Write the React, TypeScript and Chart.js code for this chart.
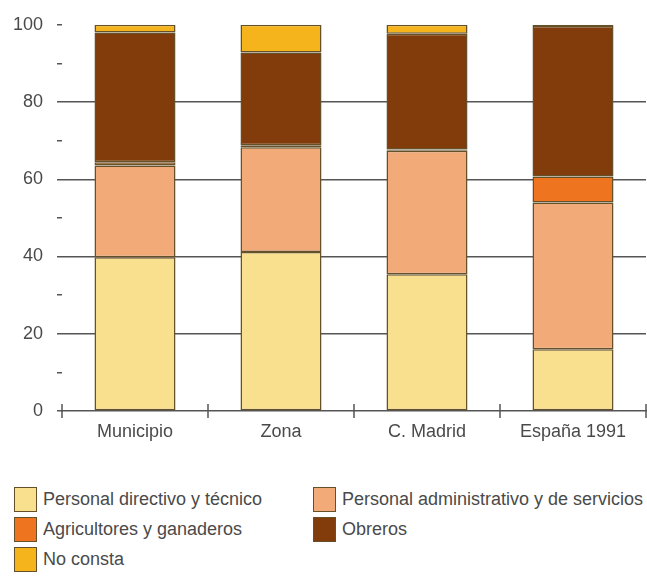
import React, { useEffect, useRef } from "react";
import { Chart, registerables } from "chart.js";

Chart.register(...registerables);

const categories = ["Municipio", "Zona", "C. Madrid", "España 1991"];
const directivo = [39.8, 41.2, 35.4, 16.0];
const administrativo = [23.8, 27.1, 32.0, 38.0];
const agricultores = [0.8, 0.5, 0.3, 6.7];
const obreros = [33.6, 24.0, 30.0, 39.0];
const noConsta = [2.0, 7.2, 2.3, 0.3];

const seriesLabels = [
  "Personal directivo y técnico",
  "Personal administrativo y de servicios",
  "Agricultores y ganaderos",
  "Obreros",
  "No consta",
];
const seriesColors = ["#F9E08F", "#F2AA78", "#EE7420", "#823C0B", "#F5B41C"];
const majorTicks = [0, 20, 40, 60, 80, 100];

const FONT = "'Liberation Sans', Arial, Helvetica, sans-serif";
const TEXT = "#4a4a4a";
const LINE = "#555555";
const BORDER = "#65502a";

const crossTicks = {
  id: "crossTicks",
  afterDatasetsDraw(chart: any) {
    const xs = chart.scales.x;
    const ys = chart.scales.y;
    const ctx = chart.ctx;
    const n = categories.length;
    const y0 = ys.getPixelForValue(0);
    ctx.save();
    ctx.strokeStyle = LINE;
    ctx.lineWidth = 1.5;
    for (let i = 0; i <= n; i++) {
      const x = xs.left + (i * xs.width) / n;
      ctx.beginPath();
      ctx.moveTo(x, y0 - 7);
      ctx.lineTo(x, y0 + 7);
      ctx.stroke();
    }
    ctx.restore();
  },
};

export default function App() {
  const ref = useRef<HTMLCanvasElement | null>(null);

  useEffect(() => {
    document.body.style.margin = "0";
    const values = [directivo, administrativo, agricultores, obreros, noConsta];
    const chart = new Chart(ref.current as HTMLCanvasElement, {
      type: "bar",
      data: {
        labels: categories,
        datasets: values.map((v, i) => ({
          label: seriesLabels[i],
          data: v,
          backgroundColor: seriesColors[i],
          borderColor: BORDER,
          borderWidth: 1.5,
          borderSkipped: false,
          barPercentage: 0.555,
          categoryPercentage: 1,
        })),
      },
      options: {
        animation: false,
        responsive: false,
        maintainAspectRatio: false,
        layout: { padding: { top: 24, right: 1, left: 0, bottom: 0 } },
        plugins: { legend: { display: false }, tooltip: { enabled: false } },
        scales: {
          x: {
            stacked: true,
            afterFit: (s: any) => {
              s.height = 49;
            },
            grid: { display: false, drawTicks: false },
            border: { display: true, color: LINE, width: 1.5 },
            ticks: {
              padding: 10,
              color: TEXT,
              font: { family: FONT, size: 18 },
            },
          },
          y: {
            stacked: true,
            min: 0,
            max: 100,
            afterFit: (s: any) => {
              s.width = 62;
            },
            border: { display: false },
            grid: {
              drawTicks: true,
              tickLength: 5,
              lineWidth: 1.5,
              color: (c: any) => {
                const v = c.tick ? c.tick.value : -1;
                return v > 0 && v < 100 && majorTicks.includes(v) ? LINE : "rgba(0,0,0,0)";
              },
              tickColor: LINE,
              tickWidth: 1.5,
            },
            ticks: {
              stepSize: 10,
              padding: 14,
              color: TEXT,
              font: { family: FONT, size: 18 },
              callback: (v: any) => (majorTicks.includes(Number(v)) ? String(v) : ""),
            },
          },
        },
      },
      plugins: [crossTicks],
    });
    return () => chart.destroy();
  }, []);

  return (
    <div style={{ position: "relative", width: 647, height: 586, background: "#fff" }}>
      <canvas ref={ref} width={647} height={460} style={{ display: "block" }} />
      <div
        style={{
          position: "absolute",
          left: 14,
          top: 487,
          display: "grid",
          gridTemplateColumns: "299px auto",
          gridAutoRows: "30px",
          fontFamily: FONT,
          fontSize: 18,
          color: TEXT,
        }}
      >
        {seriesLabels.map((l, i) => (
          <div key={l} style={{ display: "flex", alignItems: "flex-start", whiteSpace: "nowrap" }}>
            <span
              style={{
                display: "inline-block",
                boxSizing: "border-box",
                width: 23,
                height: 25,
                background: seriesColors[i],
                border: `1.5px solid ${BORDER}`,
                marginRight: 6,
              }}
            />
            <span style={{ lineHeight: "25px" }}>{l}</span>
          </div>
        ))}
      </div>
    </div>
  );
}
